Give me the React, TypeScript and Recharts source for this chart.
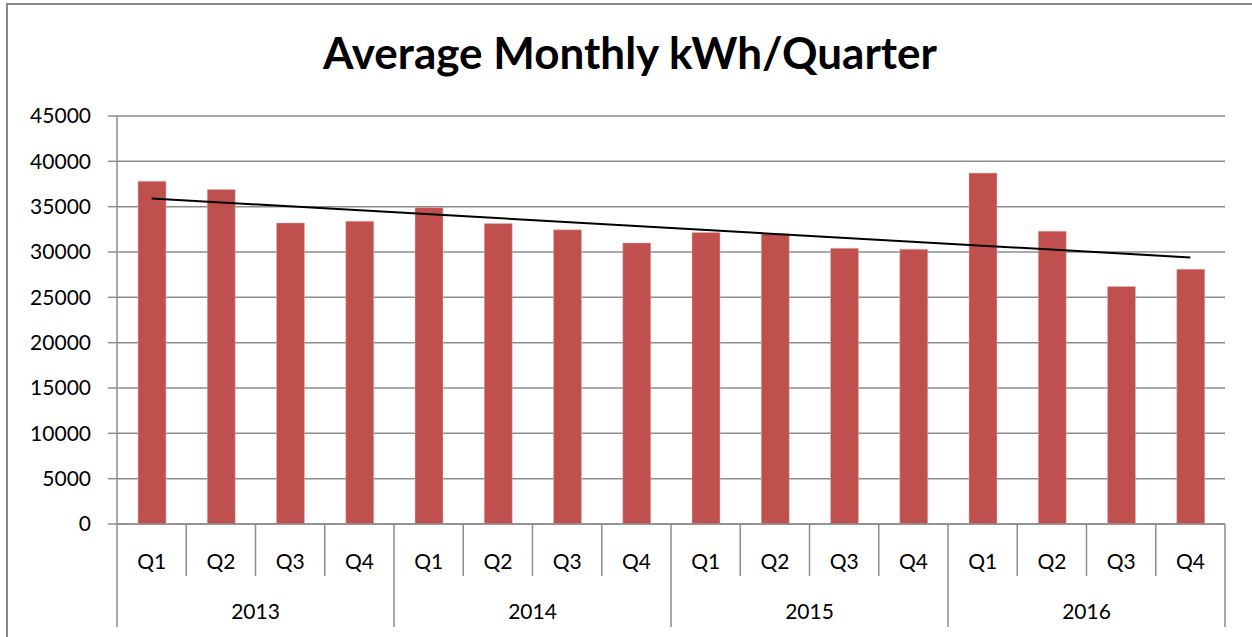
import { ComposedChart, Bar, XAxis, YAxis, CartesianGrid, ReferenceLine } from 'recharts';

const years = ['2013', '2014', '2015', '2016'];
const quarters = ['Q1', 'Q2', 'Q3', 'Q4'];
const kwh = [
  37800, 36900, 33200, 33400,
  34900, 33150, 32450, 31000,
  32150, 32000, 30400, 30300,
  38700, 32300, 26200, 28100,
];
const yTicks = [0, 5000, 10000, 15000, 20000, 25000, 30000, 35000, 40000, 45000];
// trend line end values
const trendStart = 35900;
const trendEnd = 29400;

const data = kwh.map((v, i) => ({
  key: `${years[Math.floor(i / 4)]} ${quarters[i % 4]}`,
  quarter: quarters[i % 4],
  year: years[Math.floor(i / 4)],
  kwh: v,
}));

const W = 1252;
const H = 637;
const PLOT_LEFT = 117;
const PLOT_RIGHT = 1225;
const PLOT_TOP = 116;
const PLOT_BOTTOM = 524;
const BAND = (PLOT_RIGHT - PLOT_LEFT) / data.length;
const FONT = 'Lato, "Open Sans", sans-serif';
const GRID = '#8c8c8c';

function CategoryTick(props: any) {
  const { x, payload } = props;
  const i = payload.index;
  const item = data[i];
  const left = x - BAND / 2;
  const right = x + BAND / 2;
  const groupStart = i % 4 === 0;
  return (
    <g>
      <line x1={left} x2={left} y1={PLOT_BOTTOM} y2={groupStart ? 627 : 576} stroke={GRID} strokeWidth={1.5} />
      {i === data.length - 1 && (
        <line x1={right} x2={right} y1={PLOT_BOTTOM} y2={627} stroke={GRID} strokeWidth={1.5} />
      )}
      <text x={x} y={560} textAnchor="middle" dominantBaseline="central" fontSize={21} fontFamily={FONT} fill="#000">
        {item.quarter}
      </text>
      {i % 4 === 1 && (
        <text x={right} y={610} textAnchor="middle" dominantBaseline="central" fontSize={21} fontFamily={FONT} fill="#000">
          {item.year}
        </text>
      )}
    </g>
  );
}

export default function App() {
  return (
    <div style={{ position: 'absolute', left: 0, top: 0, width: W, height: H, background: '#fff', overflow: 'hidden' }}>
      <div
        style={{
          position: 'absolute',
          left: 6,
          top: 3,
          width: W,
          height: H,
          borderLeft: '2px solid #878787',
          borderTop: '2px solid #878787',
        }}
      />
      <div
        style={{
          position: 'absolute',
          left: 0,
          width: 1260,
          top: 26,
          textAlign: 'center',
          fontFamily: FONT,
          fontWeight: 700,
          fontSize: 44,
          lineHeight: '52px',
          color: '#000',
        }}
      >
        Average Monthly kWh/Quarter
      </div>
      <div style={{ position: 'absolute', left: 0, top: 0 }}>
        <ComposedChart
          width={W}
          height={H}
          data={data}
          margin={{ top: PLOT_TOP, right: W - PLOT_RIGHT, bottom: 0, left: 0 }}
        >
          <CartesianGrid horizontal vertical={false} stroke={GRID} strokeWidth={1.5} />
          <XAxis
            dataKey="key"
            interval={0}
            height={H - PLOT_BOTTOM}
            tick={<CategoryTick />}
            tickLine={false}
            axisLine={{ stroke: GRID, strokeWidth: 1.5 }}
          />
          <YAxis
            width={PLOT_LEFT}
            domain={[0, 45000]}
            ticks={yTicks}
            interval={0}
            tickSize={9}
            tickMargin={17}
            tickLine={{ stroke: GRID, strokeWidth: 1.5 }}
            axisLine={{ stroke: GRID, strokeWidth: 1.5 }}
            tick={{ fontSize: 21, fontFamily: FONT, fill: '#000' }}
          />
          <Bar dataKey="kwh" fill="#C0504D" stroke="#E6B9B8" strokeWidth={0.5} barSize={28} isAnimationActive={false} />
          <ReferenceLine
            segment={[
              { x: data[0].key, y: trendStart },
              { x: data[data.length - 1].key, y: trendEnd },
            ]}
            stroke="#000"
            strokeWidth={2}
            ifOverflow="visible"
          />
        </ComposedChart>
      </div>
    </div>
  );
}
